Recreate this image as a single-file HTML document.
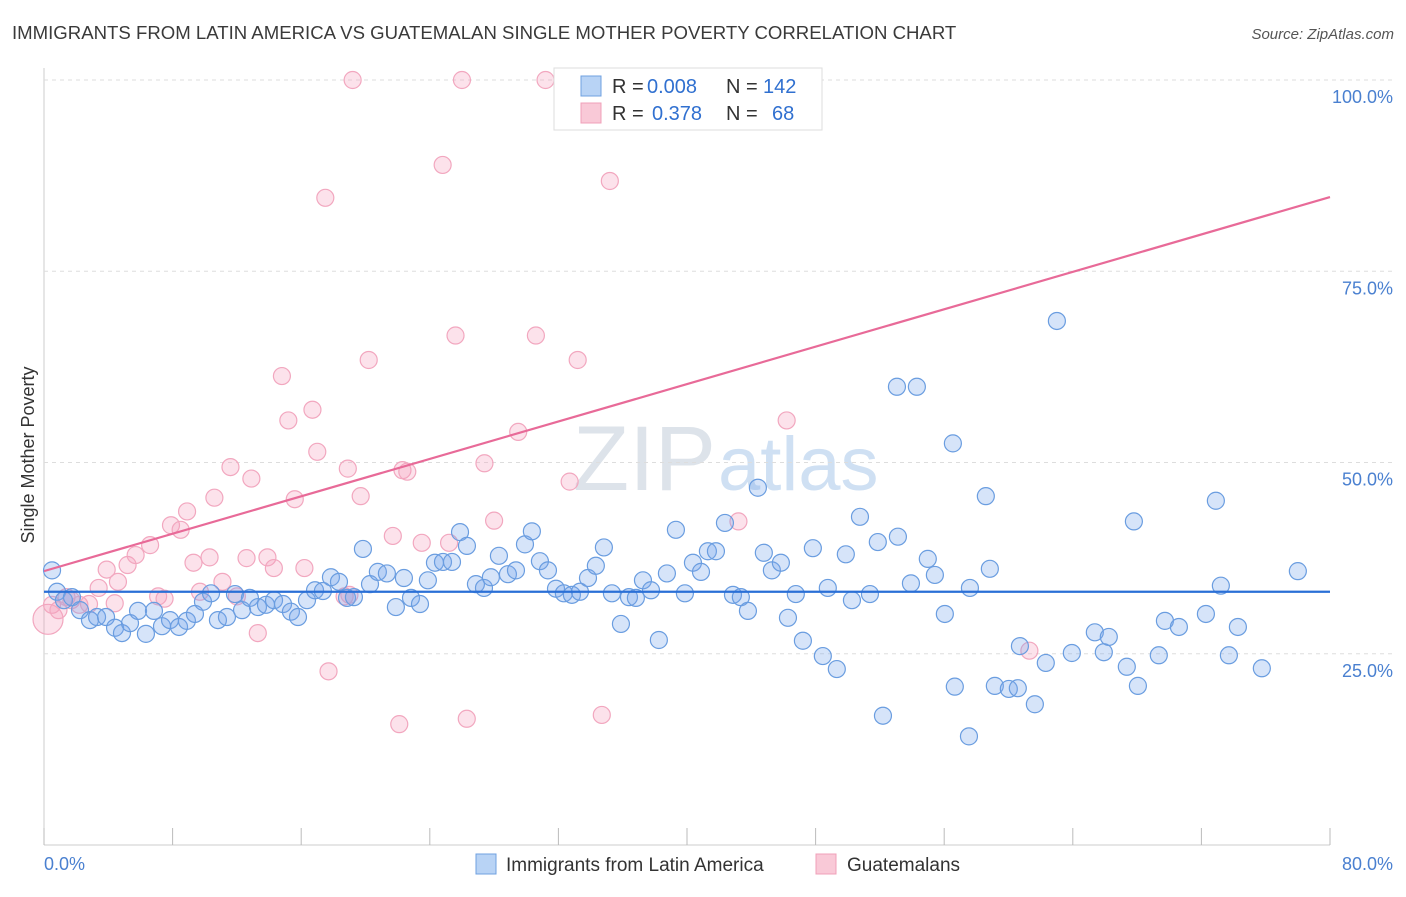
<!DOCTYPE html>
<html><head><meta charset="utf-8"><style>
body{margin:0;background:#fff;font-family:"Liberation Sans",sans-serif;}
svg text{font-family:"Liberation Sans",sans-serif;}
</style></head><body>
<svg id="c" width="1406" height="892">
<text x="12" y="39" font-size="18.6" fill="#3a3a3a">IMMIGRANTS FROM LATIN AMERICA VS GUATEMALAN SINGLE MOTHER POVERTY CORRELATION CHART</text>
<text x="1394" y="39" font-size="15" fill="#555" text-anchor="end" font-style="italic">Source: ZipAtlas.com</text>
<text x="716" y="490" font-size="92" fill="#dde3ea" text-anchor="end" font-family="Liberation Serif">ZIP</text>
<text x="718" y="490" font-size="76" fill="#cfe0f3">atlas</text>
<text transform="translate(34,455) rotate(-90)" font-size="18" fill="#333" text-anchor="middle">Single Mother Poverty</text>
<g id="grid"></g><g id="pts"></g><g id="lines"></g>
<g>
<rect x="554" y="68" width="268" height="62" fill="#fff" stroke="#ddd"/>
<rect x="581" y="76" width="20" height="20" fill="#b8d3f5" stroke="#6fa0e0"/>
<rect x="581" y="103" width="20" height="20" fill="#f9c9d7" stroke="#f0a0b8"/>
<text x="612" y="93" font-size="20" fill="#333">R =</text>
<text x="647" y="93" font-size="20" fill="#3070d0">0.008</text>
<text x="726" y="93" font-size="20" fill="#333">N =</text>
<text x="763" y="93" font-size="20" fill="#3070d0">142</text>
<text x="612" y="120" font-size="20" fill="#333">R =</text>
<text x="652" y="120" font-size="20" fill="#3070d0">0.378</text>
<text x="726" y="120" font-size="20" fill="#333">N =</text>
<text x="772" y="120" font-size="20" fill="#3070d0">68</text>
</g>
<g>
<rect x="476" y="854" width="20" height="20" fill="#b8d3f5" stroke="#6fa0e0"/>
<text x="506" y="871" font-size="19" fill="#333">Immigrants from Latin America</text>
<rect x="816" y="854" width="20" height="20" fill="#f9c9d7" stroke="#f0a0b8"/>
<text x="847" y="871" font-size="19" fill="#333">Guatemalans</text>
</g>
</svg>
<script>
const yTicks=[25,50,75,100];
const yTickLabels=["25.0%","50.0%","75.0%","100.0%"];
const xTickCount=[0,8,16,24,32,40,48,56,64,72,80];
const blueXs=[0.50,0.81,1.24,1.74,2.24,2.86,3.30,3.86,4.42,4.85,5.35,5.85,6.34,6.84,7.34,7.84,8.40,8.89,9.39,9.89,10.39,10.82,11.38,11.88,12.32,12.81,13.31,13.81,14.31,14.87,15.36,15.80,16.36,16.86,17.35,17.85,18.35,18.85,19.28,19.84,20.28,20.77,21.33,21.89,22.39,22.83,23.39,23.88,24.32,24.82,25.38,25.88,26.31,26.87,27.37,27.80,28.30,28.86,29.36,29.92,30.35,30.85,31.35,31.85,32.34,32.84,33.34,33.84,34.33,34.83,35.33,35.89,36.39,36.82,37.26,37.76,38.25,38.75,39.31,39.87,40.37,40.87,41.30,41.80,42.36,42.86,43.35,43.79,44.41,44.78,45.28,45.84,46.28,46.77,47.21,47.83,48.45,48.76,49.32,49.88,50.26,50.76,51.38,51.87,52.19,53.12,53.06,53.93,54.30,54.98,55.42,56.04,56.54,56.66,57.54,57.60,58.59,58.84,59.15,60.02,60.58,60.71,61.64,62.32,63.01,63.94,65.37,65.93,66.24,67.36,67.80,68.05,69.35,69.73,70.60,72.28,72.90,73.21,73.71,74.27,75.76,78.00];
const blueYs=[35.9,33.1,32.0,32.4,30.7,29.4,29.8,29.8,28.4,27.7,29.0,30.6,27.6,30.6,28.6,29.4,28.5,29.3,30.2,31.8,32.9,29.4,29.8,32.8,30.7,32.3,31.1,31.4,32.0,31.5,30.5,29.8,32.0,33.3,33.2,35.0,34.4,32.3,32.4,38.7,34.1,35.7,35.5,31.1,34.9,32.3,31.5,34.6,36.9,37.0,37.0,40.9,39.1,34.1,33.6,35.0,37.8,35.4,35.9,39.3,41.0,37.1,35.9,33.5,32.9,32.7,33.1,34.9,36.5,38.9,32.9,28.9,32.4,32.3,34.6,33.3,26.8,35.5,41.2,32.9,36.9,35.7,38.4,38.4,42.1,32.7,32.4,30.6,46.7,38.2,35.9,36.9,29.7,32.8,26.7,38.8,24.7,33.6,23.0,38.0,32.0,42.9,32.8,39.6,16.9,40.3,59.9,34.2,59.9,37.4,35.3,30.2,52.5,20.7,14.2,33.6,45.6,36.1,20.8,20.4,20.5,26.0,18.4,23.8,68.5,25.1,27.8,25.2,27.2,23.3,42.3,20.8,24.8,29.3,28.5,30.2,45.0,33.9,24.8,28.5,23.1,35.8];
const pinkXs=[0.25,0.5,0.9,1.4,1.7,2.2,2.8,3.4,3.9,4.4,4.6,5.2,5.7,6.6,7.1,7.5,7.9,8.5,8.9,9.3,9.7,10.3,10.6,11.1,11.6,12.0,12.6,12.9,13.3,13.9,14.3,14.8,15.2,15.6,16.2,16.7,17.0,17.5,17.7,18.7,18.9,19.2,19.7,20.2,21.7,22.1,22.3,22.6,23.5,24.8,25.2,25.6,26.0,26.3,27.4,28.0,29.5,30.6,31.2,32.7,33.2,34.7,35.2,38.1,43.2,46.2,61.3,19.0];
const pinkYs=[29.5,31.4,30.7,32.4,32.0,31.4,31.5,33.6,36.0,31.6,34.4,36.6,37.9,39.2,32.5,32.2,41.8,41.2,43.6,36.9,33.1,37.6,45.4,34.4,49.4,32.5,37.5,47.9,27.7,37.6,36.2,61.3,55.5,45.2,36.2,56.9,51.4,84.6,22.7,32.5,49.2,100,45.6,63.4,40.4,15.8,49.0,48.8,39.5,88.9,39.5,66.6,100,16.5,49.9,42.4,54.0,66.6,100,47.5,63.4,17.0,86.8,100,42.3,55.5,25.4,32.7];
const blueLine=[33.1,33.1];
const pinkLine=[35.8,84.7];
</script>
<script>
const NS="http://www.w3.org/2000/svg";
const X0=44,X1=1330,Y0=845,Y100=80;
const sx=v=>X0+(v/80)*(X1-X0);
const sy=v=>Y0-(v/100)*(Y0-Y100);
function mk(t,a,p){const e=document.createElementNS(NS,t);for(const k in a)e.setAttribute(k,a[k]);p.appendChild(e);return e;}
const grid=document.getElementById('grid');
let ax=mk('line',{x1:X0,y1:68,x2:X0,y2:Y0,stroke:'#ccc'},grid);


let bx=mk('line',{x1:X0,y1:Y0,x2:X1,y2:Y0,stroke:'#ccc'},grid);


yTicks.forEach((t,i)=>{
 const g=mk('line',{x1:X0,y1:sy(t),x2:1394,y2:sy(t),stroke:'#ddd','stroke-dasharray':'4,4'},grid);
 
 
 const tx=mk('text',{x:1393,y:sy(t)+23,'font-size':18,fill:'#4a80d0','text-anchor':'end'},grid);
 tx.textContent=yTickLabels[i];
 
 
});
xTickCount.forEach(t=>{
 const l=mk('line',{x1:sx(t),y1:828,x2:sx(t),y2:Y0,stroke:'#bbb'},grid);
 
 
});
let xl=mk('text',{x:44,y:870,'font-size':18,fill:'#4a80d0'},grid);xl.textContent='0.0%';


let xr=mk('text',{x:1393,y:870,'font-size':18,fill:'#4a80d0','text-anchor':'end'},grid);xr.textContent='80.0%';


const pts=document.getElementById('pts');
pinkXs.forEach((x,i)=>{
 const c=mk('circle',{cx:sx(x),cy:sy(pinkYs[i]),r:i==0?15:8.5,fill:'rgba(244,160,188,0.3)',stroke:'#f2a7bf','stroke-width':1.2},pts);
 
 
});
blueXs.forEach((x,i)=>{
 const c=mk('circle',{cx:sx(x),cy:sy(blueYs[i]),r:8.5,fill:'rgba(120,165,235,0.3)',stroke:'#6a9de0','stroke-width':1.2},pts);
 
 
});
const lines=document.getElementById('lines');
let bl=mk('line',{x1:sx(0),y1:sy(blueLine[0]),x2:sx(80),y2:sy(blueLine[1]),stroke:'#2a6fd6','stroke-width':2.2},lines);


let pl=mk('line',{x1:sx(0),y1:sy(pinkLine[0]),x2:sx(80),y2:sy(pinkLine[1]),stroke:'#e86a98','stroke-width':2.2},lines);


</script>
</body></html>
